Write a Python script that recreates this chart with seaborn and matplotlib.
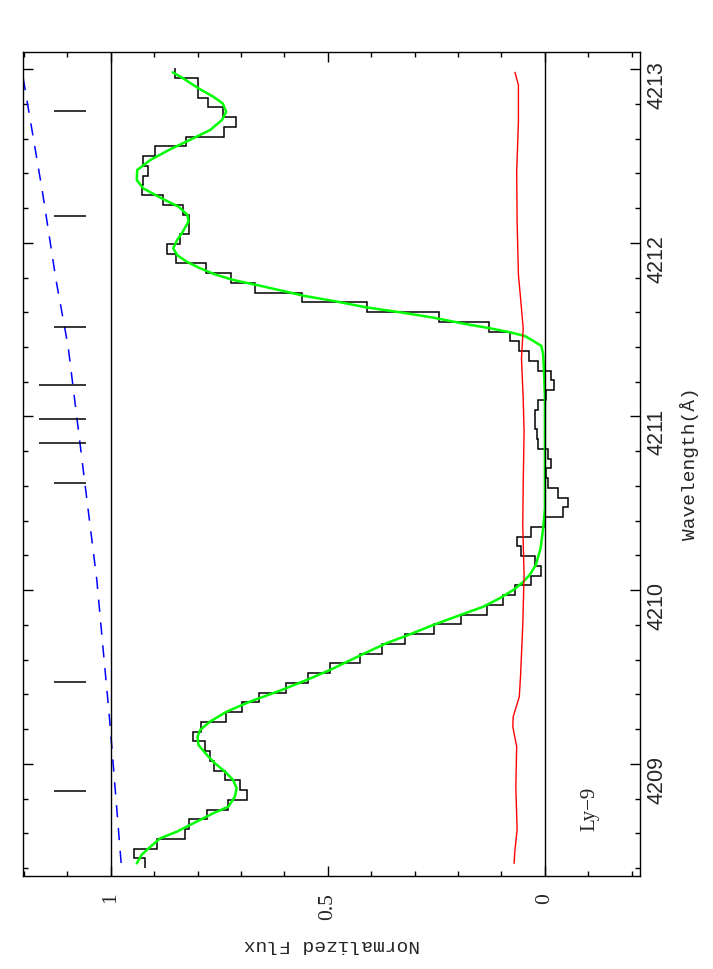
import numpy as np
import matplotlib
matplotlib.use("Agg")
import matplotlib.pyplot as plt
from matplotlib.ticker import MultipleLocator, FixedLocator, FixedFormatter
import seaborn as sns

# observed pixels: normalized flux, increasing wavelength
wave_lo, wave_hi = 4208.400, 4213.004
flux = [0.921, 0.946, 0.894, 0.829, 0.820, 0.779, 0.729, 0.687, 0.702, 0.737,
        0.761, 0.771, 0.783, 0.811, 0.793, 0.735, 0.698, 0.659, 0.597, 0.545,
        0.495, 0.427, 0.376, 0.322, 0.256, 0.194, 0.134, 0.097, 0.069, 0.032,
        0.008, 0.023, 0.054, 0.064, 0.031, 0.002, -0.042, -0.053, -0.029, -0.008,
        -0.002, -0.014, -0.006, 0.015, 0.019, 0.022, 0.022, 0.016, -0.002, -0.021,
        -0.015, 0.015, 0.037, 0.059, 0.081, 0.128, 0.244, 0.409, 0.560, 0.668,
        0.723, 0.781, 0.850, 0.870, 0.840, 0.819, 0.819, 0.833, 0.880, 0.928,
        0.925, 0.913, 0.926, 0.899, 0.827, 0.739, 0.711, 0.741, 0.777, 0.798,
        0.798, 0.851]

# voigt profile fit (green)
fit_wave = [4208.428, 4208.476, 4208.505, 4208.572, 4208.610, 4208.668, 4208.716,
            4208.754, 4208.812, 4208.860, 4208.908, 4208.956, 4209.004, 4209.042,
            4209.109, 4209.157, 4209.196, 4209.244, 4209.301, 4209.359, 4209.422,
            4209.483, 4209.541, 4209.637, 4209.695, 4209.742, 4209.800, 4209.858,
            4209.905, 4209.954, 4210.001, 4210.046, 4210.088, 4210.145, 4210.241,
            4210.357, 4210.471, 4210.606, 4210.912, 4211.105, 4211.258, 4211.354,
            4211.406, 4211.435, 4211.463, 4211.485, 4211.508, 4211.531, 4211.569,
            4211.600, 4211.628, 4211.665, 4211.695, 4211.722, 4211.757, 4211.786,
            4211.818, 4211.853, 4211.891, 4211.929, 4211.968, 4212.016, 4212.064,
            4212.121, 4212.160, 4212.208, 4212.256, 4212.313, 4212.361, 4212.419,
            4212.476, 4212.538, 4212.601, 4212.649, 4212.706, 4212.754, 4212.802,
            4212.841, 4212.889, 4212.946, 4212.981]
fit_flux = [0.940, 0.929, 0.917, 0.886, 0.848, 0.802, 0.764,
            0.729, 0.714, 0.710, 0.718, 0.737, 0.760, 0.775,
            0.798, 0.800, 0.794, 0.771, 0.733, 0.679, 0.610,
            0.549, 0.495, 0.415, 0.365, 0.315, 0.257, 0.194,
            0.142, 0.104, 0.073, 0.051, 0.035, 0.021, 0.010,
            0.004, 0.000, 0.000, 0.000, 0.000, 0.002, 0.004,
            0.008, 0.027, 0.046, 0.081, 0.127, 0.180, 0.257,
            0.334, 0.411, 0.487, 0.556, 0.602, 0.664, 0.718,
            0.760, 0.794, 0.825, 0.847, 0.856, 0.847, 0.834,
            0.821, 0.823, 0.844, 0.883, 0.925, 0.940, 0.939,
            0.909, 0.863, 0.810, 0.771, 0.744, 0.734, 0.742,
            0.764, 0.798, 0.833, 0.857]

# 1-sigma error (red)
err_wave = [4208.428, 4208.505, 4208.620, 4208.869, 4209.100, 4209.215, 4209.272,
            4209.387, 4209.512, 4209.800, 4210.088, 4210.376, 4210.606, 4210.912,
            4211.105, 4211.335, 4211.508, 4211.680, 4211.814, 4212.121, 4212.409,
            4212.697, 4212.908, 4212.981]
err_flux = [0.071, 0.069, 0.064, 0.067, 0.065, 0.074, 0.073,
            0.059, 0.056, 0.051, 0.048, 0.051, 0.050, 0.048,
            0.050, 0.054, 0.050, 0.056, 0.061, 0.064, 0.065,
            0.061, 0.061, 0.069]

# continuum guide (blue dashed)
cont_wave = [4208.430, 4209.270, 4209.675, 4210.059, 4210.606, 4211.402, 4211.786,
             4212.290, 4212.954]
cont_flux = [0.976, 1.003, 1.018, 1.032, 1.059, 1.098, 1.126, 1.157, 1.202]

# component markers
line_waves = [4208.845, 4209.470, 4210.620, 4210.850, 4210.983, 4211.184,
              4211.517, 4212.155, 4212.758]
line_tops = [1.131, 1.131, 1.131, 1.165, 1.165, 1.165, 1.131, 1.131, 1.131]
line_base = 1.057

sns.set_style("ticks")
plt.rcParams["font.family"] = ["Liberation Sans", "DejaVu Sans"]

fig = plt.figure(figsize=(7.13, 9.69), dpi=100)
ax = fig.add_axes([23 / 713, 93 / 969, 617 / 713, 824 / 969])

edges = np.linspace(wave_lo, wave_hi, len(flux) + 1)
ax.stairs(flux, edges, orientation="horizontal", baseline=None,
          color="black", lw=1.1)
sns.lineplot(x=fit_flux, y=fit_wave, sort=False, estimator=None,
             color="#00ff00", lw=1.8, ax=ax)
sns.lineplot(x=err_flux, y=err_wave, sort=False, estimator=None,
             color="#ff0000", lw=1.0, ax=ax)
sns.lineplot(x=cont_flux, y=cont_wave, sort=False, estimator=None,
             color="#0000ff", lw=1.1, ax=ax, linestyle=(0, (8, 7)))

ax.hlines(line_waves, line_base, line_tops, color="black", lw=1.1)
ax.axvline(0, color="black", lw=1.0)
ax.axvline(1, color="black", lw=1.0)

ax.text(-0.104, 4208.74, "Ly\u22129", rotation=90, ha="center", va="center",
        family="Liberation Serif", fontsize=15)

ax.set_xlim(1.202, -0.219)
ax.set_ylim(4208.355, 4213.098)

ax.xaxis.set_major_locator(FixedLocator([0, 0.5, 1]))
ax.xaxis.set_major_formatter(FixedFormatter(["0", "0.5", "1"]))
ax.xaxis.set_minor_locator(MultipleLocator(0.1))
ax.yaxis.set_major_locator(MultipleLocator(1))
ax.yaxis.set_minor_locator(MultipleLocator(0.2))

ax.tick_params(which="both", direction="in", top=True, right=True,
               left=True, bottom=True, width=1.0, color="black")
ax.tick_params(which="major", length=7.2)
ax.tick_params(which="minor", length=3.6)
ax.tick_params(axis="y", labelleft=False, labelright=True, labelrotation=90,
               labelsize=15.5, pad=5)
ax.tick_params(axis="x", labelrotation=90, labelsize=15.5, pad=12,
               labelfontfamily="Liberation Serif")

ax.yaxis.set_label_position("right")
ax.set_ylabel("Wavelength(\u00c5)", family="Liberation Mono", fontsize=14,
              labelpad=9)
ax.set_xlabel("Normalized Flux", rotation=180, family="Liberation Mono",
              fontsize=14, labelpad=12)

for sp in ax.spines.values():
    sp.set_linewidth(1.0)
    sp.set_color("black")

fig.savefig("out.png", dpi=100)
